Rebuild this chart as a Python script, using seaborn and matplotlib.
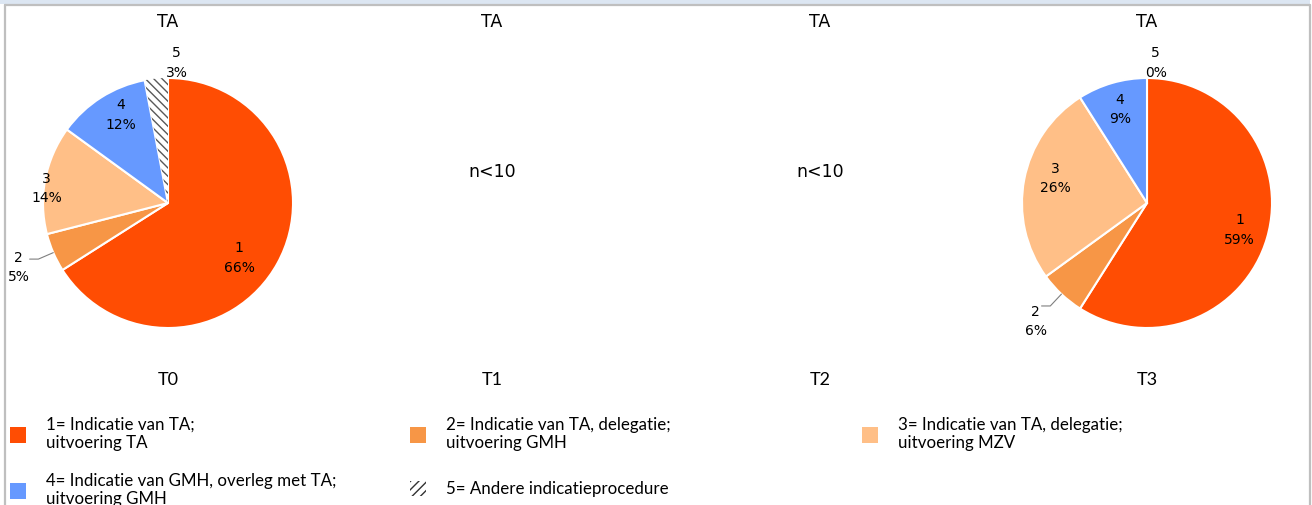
import numpy as np
import matplotlib
matplotlib.use("Agg")
import matplotlib.pyplot as plt
from matplotlib.patches import Patch, Rectangle
from matplotlib.lines import Line2D
import seaborn as sns

# data
periods = ["T0", "T1", "T2", "T3"]
top_title = "TA"
categories = ["1", "2", "3", "4", "5"]
t0_values = [66, 5, 14, 12, 3]
t3_values = [59, 6, 26, 9, 0]
small_n_text = "n<10"
legend_labels = [
    "1= Indicatie van TA;\nuitvoering TA",
    "2= Indicatie van TA, delegatie;\nuitvoering GMH",
    "3= Indicatie van TA, delegatie;\nuitvoering MZV",
    "4= Indicatie van GMH, overleg met TA;\nuitvoering GMH",
    "5= Andere indicatieprocedure",
]

sns.set_theme(style="white")
plt.rcParams["font.family"] = ["DejaVu Sans"]
plt.rcParams["text.color"] = "black"
colors = ["#FF4D03", "#F79646", "#FFBF87", "#6699FF", "white"]
narrow = ["Lato", "DejaVu Sans"]

W, H = 1312, 505
fig = plt.figure(figsize=(W / 100, H / 100), dpi=100)
fig.patch.set_facecolor("white")


def fx(px):
    return px / W


def fy(py):
    return 1 - py / H


# frame like the screenshot
fig.add_artist(Rectangle((0, fy(4)), fx(1310), 4 / H, transform=fig.transFigure,
                         facecolor="#DCE6F2", edgecolor="none"))
for xs, ys in [([5, 5], [5, 505]), ([5, 1310], [5, 5]), ([1310, 1310], [5, 505])]:
    fig.add_artist(Line2D([fx(x) for x in xs], [fy(y) for y in ys],
                          transform=fig.transFigure, color="#BFBFBF", lw=1.6))

col_x = [168, 492, 820, 1147]
center_y = 203


def draw_pie(cx, values, inside_r, shift):
    ax = fig.add_axes([fx(cx - 150), fy(center_y + 150), 300 / W, 300 / H])
    wedges, _ = ax.pie(values, colors=colors, startangle=90, counterclock=False,
                       wedgeprops=dict(edgecolor="white", linewidth=1.5))
    wedges[4].set_hatch("\\\\\\\\")
    wedges[4].set_edgecolor("#595959")
    wedges[4].set_linewidth(0)
    for i, w in enumerate(wedges):
        mid = np.deg2rad((w.theta1 + w.theta2) / 2 + shift[i])
        lab = f"{categories[i]}\n{values[i]}%"
        if i == 1:
            r = 1.3
            x, y = r * np.cos(mid), r * np.sin(mid)
            ex, ey = 1.0 * np.cos(mid), 1.0 * np.sin(mid)
            kx, ky = 1.13 * np.cos(mid), 1.13 * np.sin(mid)
            ax.plot([ex, kx, kx - 0.07], [ey, ky, ky], color="#7F7F7F", lw=0.8)
            ax.text(x, y, lab, ha="center", va="center", fontsize=10, linespacing=1.5)
        elif i == 4:
            ax.text(0.07, 1.12, lab, ha="center", va="center", fontsize=10, linespacing=1.5)
        else:
            r = inside_r[i]
            ax.text(r * np.cos(mid), r * np.sin(mid), lab, ha="center", va="center",
                    fontsize=10, linespacing=1.5)
    ax.set_xlim(-1.2, 1.2)
    ax.set_ylim(-1.2, 1.2)
    ax.set_aspect("equal")
    ax.axis("off")


draw_pie(col_x[0], t0_values, [0.72, 0, 0.98, 0.8, 0], [-9, 0, 4, -4, 0])
draw_pie(col_x[3], t3_values, [0.77, 0, 0.76, 0.78, 0], [0, 0, -4, 0, 0])

for i, x in enumerate(col_x):
    fig.text(fx(x), fy(22), top_title, ha="center", va="center", fontsize=12.5)
    fig.text(fx(x), fy(380), periods[i], ha="center", va="center", fontsize=13,
             family=narrow)
for x in col_x[1:3]:
    fig.text(fx(x), fy(172), small_n_text, ha="center", va="center", fontsize=12.5)

# legend, one entry per slot
slots = [(10, 434), (410, 434), (862, 434), (10, 490), (410, 489)]
for i, (lx, ly) in enumerate(slots):
    if i == 4:
        h = Patch(facecolor="white", edgecolor="#333333", hatch="////", linewidth=0)
    else:
        h = Patch(facecolor=colors[i], edgecolor="none")
    fig.legend([h], [legend_labels[i]], loc="center left",
               bbox_to_anchor=(fx(lx), fy(ly)), frameon=False, borderpad=0,
               borderaxespad=0, handlelength=0.95, handleheight=1.05,
               handletextpad=1.2, labelspacing=0,
               prop={"family": narrow, "size": 12.2})

fig.savefig("out.png", dpi=100)
